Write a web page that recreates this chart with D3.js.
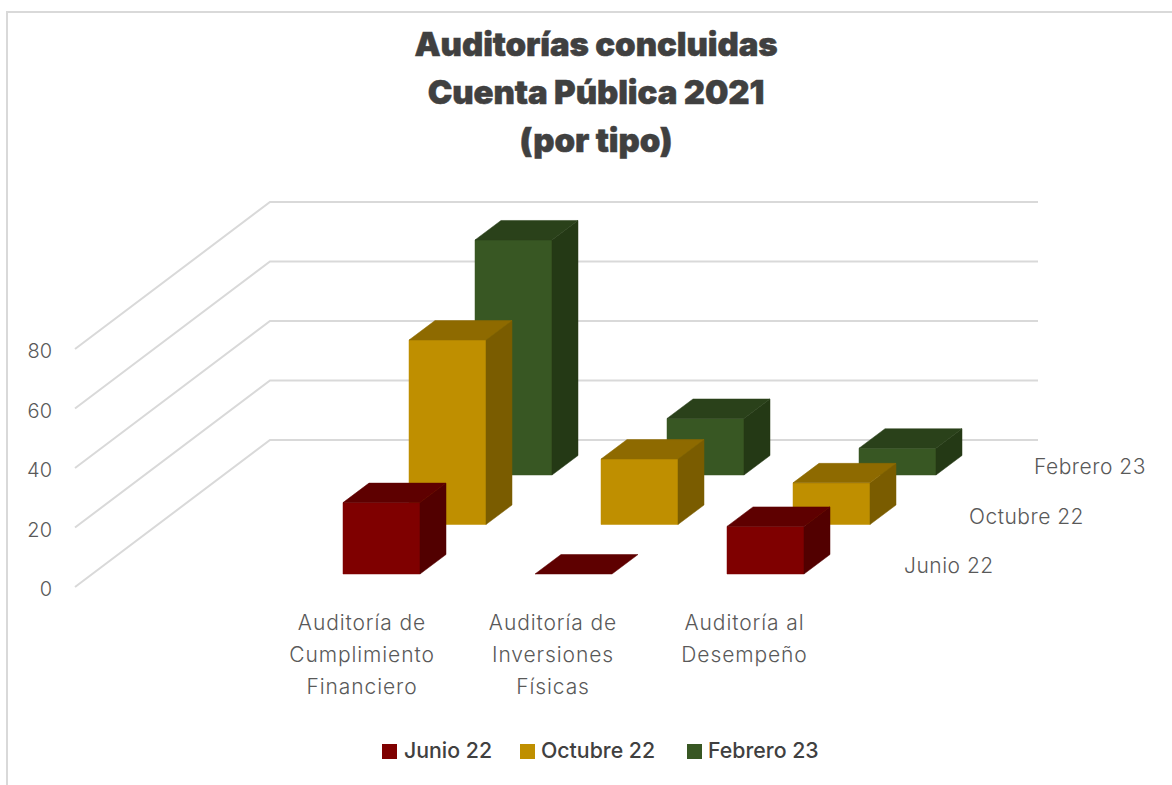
<!DOCTYPE html>
<html><head><meta charset="utf-8">
<script src="https://cdn.jsdelivr.net/npm/d3@7/dist/d3.min.js"></script>
<style>html,body{margin:0;padding:0;background:#fff;overflow:hidden}svg{display:block}</style>
</head><body><svg id="c" width="1172" height="785"></svg>
<script>
const titleLines = ["Auditorías concluidas","Cuenta Pública 2021","(por tipo)"];
const categories = ["Auditoría de|Cumplimiento|Financiero","Auditoría de|Inversiones|Físicas","Auditoría al|Desempeño"];
const seriesNames = ["Junio 22","Octubre 22","Febrero 23"];
const junio = [24,0,16];
const octubre = [62,22,14];
const febrero = [79,19,9];
const ticks = [0,20,40,60,80];
const faceColors = ["#7f0000","#bf8f00","#385723"];
const topColors = ["#5e0000","#8e6a00","#2a411a"];
const sideColors = ["#520000","#7a5c00","#243915"];

const svg = d3.select("#c");
const font = "Inter, 'Noto Sans', sans-serif";
// frame: left and top edges only, running off the picture
svg.append("path").attr("d","M7,785V12H1172").attr("fill","none").attr("stroke","#d9d9d9").attr("stroke-width",2);

// scales: value height, series depth, category x
const yVal = d3.scaleLinear().domain([0,80]).range([0,238]);
const xBack = 270, xEnd = 1038, floorBackY = 440;
const depthX = d3.scaleLinear().domain([0,1]).range([-195,0]);
const depthY = d3.scaleLinear().domain([0,1]).range([147,0]);

// gridlines
ticks.forEach(t=>{
  const y = floorBackY - yVal(t);
  svg.append("path")
    .attr("d",d3.line()([[xBack+depthX(0),y+depthY(0)],[xBack,y],[xEnd,y]]))
    .attr("fill","none").attr("stroke","#d9d9d9").attr("stroke-width",2);
  svg.append("text").attr("x",52).attr("y",y+depthY(0)+2).attr("text-anchor","end")
    .attr("dominant-baseline","central").attr("font-family",font).attr("font-weight",300)
    .attr("font-size",20).attr("fill","#595959").text(t);
});

// bars
const barW = 77, barDX = 26, barDY = 19.5;
const catX = d3.scaleLinear().domain([0,1]).range([343,535]);
const seriesDX = d3.scaleLinear().domain([0,1]).range([0,66]);
const seriesBase = d3.scaleLinear().domain([0,1]).range([574,524.5]);
const allSeries = [junio,octubre,febrero];
const order = [2,1,0];
order.forEach(s=>{
  allSeries[s].forEach((v,c)=>{
    const x0 = catX(c)+seriesDX(s), base = seriesBase(s), h = yVal(v);
    const g = svg.append("g");
    const t = base-h;
    const poly = (pts,fill)=>g.append("polygon").attr("points",pts.map(p=>p.join(",")).join(" "))
      .attr("fill",fill).attr("stroke",fill).attr("stroke-width",0.5);
    if(h>0){
      poly([[x0,base],[x0+barW,base],[x0+barW,t],[x0,t]],faceColors[s]);
      poly([[x0+barW,base],[x0+barW+barDX,base-barDY],[x0+barW+barDX,t-barDY],[x0+barW,t]],sideColors[s]);
    }
    poly([[x0,t],[x0+barW,t],[x0+barW+barDX,t-barDY],[x0+barDX,t-barDY]],topColors[s]);
  });
});

// depth-axis labels
const depthLabelX = [904,969,1034], depthLabelY = [565,516,466];
seriesNames.forEach((n,i)=>{
  svg.append("text").attr("x",depthLabelX[i]).attr("y",depthLabelY[i]).attr("dominant-baseline","central")
    .attr("font-family",font).attr("font-weight",300).attr("font-size",21).attr("letter-spacing",0.5)
    .attr("fill","#595959").text(n);
});

// category labels
categories.forEach((c,i)=>{
  c.split("|").forEach((l,j)=>{
    svg.append("text").attr("x",[362,553,744.5][i]).attr("y",622+j*32).attr("text-anchor","middle")
      .attr("dominant-baseline","central").attr("font-family",font).attr("font-weight",300)
      .attr("font-size",21).attr("letter-spacing",0.9).attr("fill","#595959").text(l);
  });
});

// title
titleLines.forEach((l,i)=>{
  svg.append("text").attr("x",596).attr("y",43.5+i*48).attr("text-anchor","middle").attr("dominant-baseline","central")
    .attr("font-family",font).attr("font-weight",900).attr("font-size",33).attr("letter-spacing",-0.1)
    .attr("fill","#404040").attr("stroke","#404040").attr("stroke-width",0.5).text(l);
});

// legend
const legX = [382,520,687], legTX=[404,541,708];
seriesNames.forEach((n,i)=>{
  svg.append("rect").attr("x",legX[i]).attr("y",744).attr("width",15).attr("height",15).attr("fill",faceColors[i]);
  svg.append("text").attr("x",legTX[i]).attr("y",750).attr("dominant-baseline","central")
    .attr("font-family",font).attr("font-weight",500).attr("font-size",21.3).attr("fill","#404040").text(n);
});
</script></body></html>
